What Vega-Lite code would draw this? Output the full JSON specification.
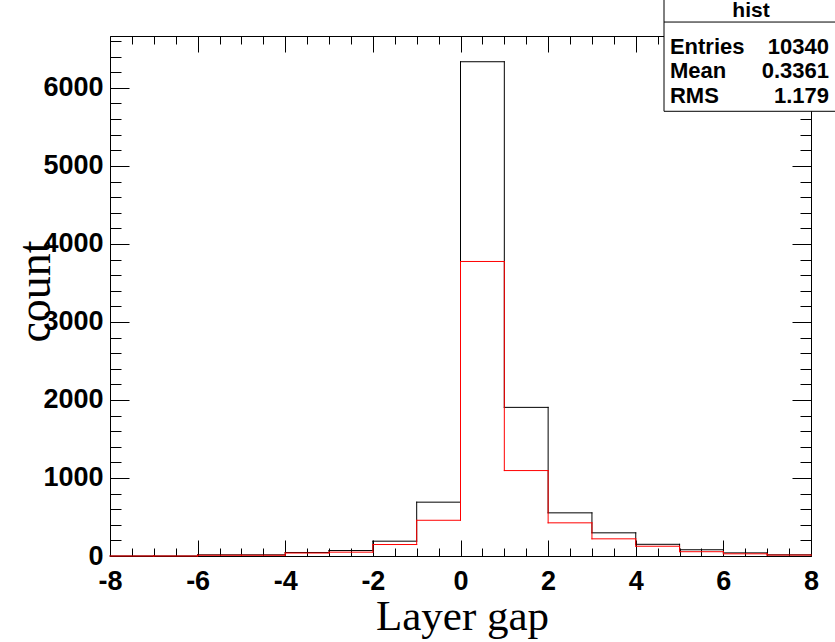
{
  "$schema": "https://vega.github.io/schema/vega-lite/v6.json",
  "width": 701,
  "height": 520,
  "autosize": "none",
  "padding": {"left": 110, "top": 36, "right": 24, "bottom": 86},
  "background": "white",
  "config": {
    "view": {"stroke": "#000000", "strokeWidth": 1},
    "axis": {"domain": false, "grid": false, "tickColor": "#000000", "tickWidth": 1}
  },
  "datasets": {
    "hist": [
      {"lo": -8, "hi": -7, "black": 0, "red": 0},
      {"lo": -7, "hi": -6, "black": 0, "red": 0},
      {"lo": -6, "hi": -5, "black": 15, "red": 10},
      {"lo": -5, "hi": -4, "black": 15, "red": 10},
      {"lo": -4, "hi": -3, "black": 45, "red": 38},
      {"lo": -3, "hi": -2, "black": 70, "red": 49},
      {"lo": -2, "hi": -1, "black": 190, "red": 147},
      {"lo": -1, "hi": 0, "black": 690, "red": 458},
      {"lo": 0, "hi": 1, "black": 6335, "red": 3775},
      {"lo": 1, "hi": 2, "black": 1905, "red": 1095},
      {"lo": 2, "hi": 3, "black": 553, "red": 425},
      {"lo": 3, "hi": 4, "black": 297, "red": 220},
      {"lo": 4, "hi": 5, "black": 150, "red": 125},
      {"lo": 5, "hi": 6, "black": 80, "red": 55},
      {"lo": 6, "hi": 7, "black": 40, "red": 28},
      {"lo": 7, "hi": 8, "black": 15, "red": 12}
    ],
    "stats": [
      {"name": "Entries", "value": "10340"},
      {"name": "Mean", "value": "0.3361"},
      {"name": "RMS", "value": "1.179"}
    ]
  },
  "resolve": {"axis": {"x": "independent", "y": "independent"}},
  "layer": [
    {
      "data": {"name": "hist"},
      "transform": [{"window": [{"op": "lead", "field": "black", "as": "next"}], "sort": [{"field": "lo", "order": "ascending"}]}],
      "mark": {"type": "rule", "color": "#000000", "strokeWidth": 1, "strokeCap": "square"},
      "encoding": {
        "x": {
          "field": "hi", "type": "quantitative",
          "scale": {"domain": [-8, 8], "nice": false, "zero": false},
          "axis": {
            "orient": "bottom",
            "values": [-8,-7.5,-7,-6.5,-6,-5.5,-5,-4.5,-4,-3.5,-3,-2.5,-2,-1.5,-1,-0.5,0,0.5,1,1.5,2,2.5,3,3.5,4,4.5,5,5.5,6,6.5,7,7.5,8],
            "tickSize": {"condition": {"test": "datum.value % 2 === 0", "value": -16}, "value": -8},
            "labelExpr": "datum.value % 2 === 0 ? '' + datum.value : ''",
            "labelFont": "Liberation Sans", "labelFontWeight": "bold", "labelFontSize": 27, "labelColor": "#000000",
            "labelPadding": 28, "labelFlush": false, "labelOverlap": false, "labelBound": false,
            "title": "Layer gap", "titleFont": "Liberation Serif", "titleFontWeight": "normal", "titleFontSize": 43,
            "titleColor": "#000000", "titleX": 352, "titleY": 73, "titleBaseline": "alphabetic", "titleAlign": "center"
          }
        },
        "y": {
          "field": "black", "type": "quantitative",
          "scale": {"domain": [0, 6665], "nice": false},
          "axis": {
            "orient": "left",
            "values": [0,200,400,600,800,1000,1200,1400,1600,1800,2000,2200,2400,2600,2800,3000,3200,3400,3600,3800,4000,4200,4400,4600,4800,5000,5200,5400,5600,5800,6000,6200,6400,6600],
            "tickSize": {"condition": {"test": "datum.value % 1000 === 0", "value": -19}, "value": -11},
            "labelExpr": "datum.value % 1000 === 0 ? '' + datum.value : ''",
            "labelFont": "Liberation Sans", "labelFontWeight": "bold", "labelFontSize": 27, "labelColor": "#000000",
            "labelPadding": 26, "labelFlush": false, "labelOverlap": false, "labelBound": false,
            "title": "count", "titleFont": "Liberation Serif", "titleFontWeight": "normal", "titleFontSize": 46,
            "titleColor": "#000000", "titleAngle": -90, "titleX": -61, "titleY": 255, "titleBaseline": "alphabetic", "titleAlign": "center"
          }
        },
        "y2": {"field": "next"}
      }
    },
    {
      "data": {"name": "hist"},
      "mark": {"type": "rule", "color": "#000000", "strokeWidth": 1, "strokeCap": "square"},
      "encoding": {
        "x": {"field": "lo", "type": "quantitative", "axis": null},
        "x2": {"field": "hi"},
        "y": {"field": "black", "type": "quantitative", "axis": null}
      }
    },
    {
      "data": {"name": "hist"},
      "transform": [{"window": [{"op": "lead", "field": "red", "as": "next"}], "sort": [{"field": "lo", "order": "ascending"}]}],
      "mark": {"type": "rule", "color": "#ff0000", "strokeWidth": 1, "strokeCap": "square"},
      "encoding": {
        "x": {
          "field": "hi", "type": "quantitative",
          "axis": {
            "orient": "top", "zindex": 0,
            "values": [-8,-7.5,-7,-6.5,-6,-5.5,-5,-4.5,-4,-3.5,-3,-2.5,-2,-1.5,-1,-0.5,0,0.5,1,1.5,2,2.5,3,3.5,4,4.5,5,5.5,6,6.5,7,7.5,8],
            "tickSize": {"condition": {"test": "datum.value % 2 === 0", "value": -16}, "value": -8},
            "labels": false, "title": null
          }
        },
        "y": {
          "field": "red", "type": "quantitative",
          "axis": {
            "orient": "right", "zindex": 0,
            "values": [0,200,400,600,800,1000,1200,1400,1600,1800,2000,2200,2400,2600,2800,3000,3200,3400,3600,3800,4000,4200,4400,4600,4800,5000,5200,5400,5600,5800,6000,6200,6400,6600],
            "tickSize": {"condition": {"test": "datum.value % 1000 === 0", "value": -19}, "value": -11},
            "labels": false, "title": null
          }
        },
        "y2": {"field": "next"}
      }
    },
    {
      "data": {"name": "hist"},
      "mark": {"type": "rule", "color": "#ff0000", "strokeWidth": 1, "strokeCap": "square"},
      "encoding": {
        "x": {"field": "lo", "type": "quantitative", "axis": null},
        "x2": {"field": "hi"},
        "y": {"field": "red", "type": "quantitative", "axis": null}
      }
    },
    {
      "data": {"values": [{"box": "hist"}]},
      "mark": {"type": "rect", "fill": "#ffffff", "stroke": "#000000", "strokeWidth": 1},
      "encoding": {
        "x": {"datum": 4.645, "type": "quantitative", "axis": null},
        "x2": {"datum": 8.9},
        "y": {"datum": 7400, "type": "quantitative", "axis": null},
        "y2": {"datum": 5700}
      }
    },
    {
      "data": {"values": [{"box": "hist"}]},
      "mark": {"type": "rule", "color": "#000000", "strokeWidth": 1},
      "encoding": {
        "x": {"datum": 4.645, "type": "quantitative", "axis": null},
        "x2": {"datum": 8.9},
        "y": {"datum": 6844, "type": "quantitative", "axis": null}
      }
    },
    {
      "data": {"values": [{"box": "hist"}]},
      "mark": {"type": "text", "font": "Liberation Sans", "fontWeight": "bold", "fontSize": 21, "color": "#000000", "align": "center", "baseline": "middle"},
      "encoding": {
        "x": {"datum": 6.63, "type": "quantitative", "axis": null},
        "y": {"datum": 6985, "type": "quantitative", "axis": null},
        "text": {"field": "box"}
      }
    },
    {
      "data": {"name": "stats"},
      "transform": [{"filter": "datum.name === 'Entries'"}],
      "mark": {"type": "text", "font": "Liberation Sans", "fontWeight": "bold", "fontSize": 22, "color": "#000000", "align": "left", "baseline": "middle"},
      "encoding": {
        "x": {"datum": 4.78, "type": "quantitative", "axis": null},
        "y": {"datum": 6530, "type": "quantitative", "axis": null},
        "text": {"field": "name"}
      }
    },
    {
      "data": {"name": "stats"},
      "transform": [{"filter": "datum.name === 'Entries'"}],
      "mark": {"type": "text", "font": "Liberation Sans", "fontWeight": "bold", "fontSize": 22, "color": "#000000", "align": "right", "baseline": "middle"},
      "encoding": {
        "x": {"datum": 8.41, "type": "quantitative", "axis": null},
        "y": {"datum": 6530, "type": "quantitative", "axis": null},
        "text": {"field": "value"}
      }
    },
    {
      "data": {"name": "stats"},
      "transform": [{"filter": "datum.name === 'Mean'"}],
      "mark": {"type": "text", "font": "Liberation Sans", "fontWeight": "bold", "fontSize": 22, "color": "#000000", "align": "left", "baseline": "middle"},
      "encoding": {
        "x": {"datum": 4.78, "type": "quantitative", "axis": null},
        "y": {"datum": 6210, "type": "quantitative", "axis": null},
        "text": {"field": "name"}
      }
    },
    {
      "data": {"name": "stats"},
      "transform": [{"filter": "datum.name === 'Mean'"}],
      "mark": {"type": "text", "font": "Liberation Sans", "fontWeight": "bold", "fontSize": 22, "color": "#000000", "align": "right", "baseline": "middle"},
      "encoding": {
        "x": {"datum": 8.41, "type": "quantitative", "axis": null},
        "y": {"datum": 6210, "type": "quantitative", "axis": null},
        "text": {"field": "value"}
      }
    },
    {
      "data": {"name": "stats"},
      "transform": [{"filter": "datum.name === 'RMS'"}],
      "mark": {"type": "text", "font": "Liberation Sans", "fontWeight": "bold", "fontSize": 22, "color": "#000000", "align": "left", "baseline": "middle"},
      "encoding": {
        "x": {"datum": 4.78, "type": "quantitative", "axis": null},
        "y": {"datum": 5890, "type": "quantitative", "axis": null},
        "text": {"field": "name"}
      }
    },
    {
      "data": {"name": "stats"},
      "transform": [{"filter": "datum.name === 'RMS'"}],
      "mark": {"type": "text", "font": "Liberation Sans", "fontWeight": "bold", "fontSize": 22, "color": "#000000", "align": "right", "baseline": "middle"},
      "encoding": {
        "x": {"datum": 8.41, "type": "quantitative", "axis": null},
        "y": {"datum": 5890, "type": "quantitative", "axis": null},
        "text": {"field": "value"}
      }
    }
  ]
}
